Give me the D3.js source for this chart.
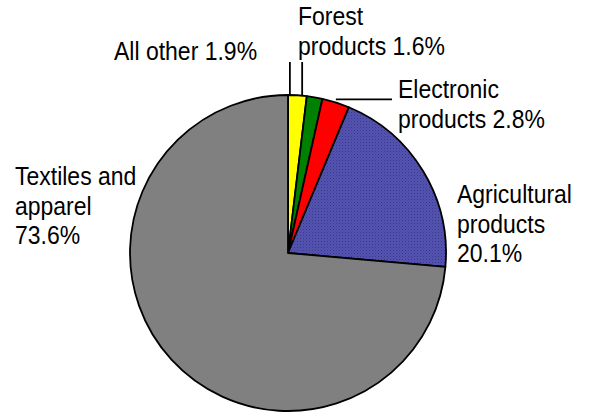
<!DOCTYPE html>
<html><head><meta charset="utf-8">
<script src="https://cdn.jsdelivr.net/npm/d3@7"></script>
<style>body{margin:0;background:#fff}svg{display:block}text{font-family:"Liberation Sans",Arial,sans-serif;font-size:23px;fill:#000}</style>
</head><body>
<script>
const categories = ["All other", "Forest products", "Electronic products", "Agricultural products", "Textiles and apparel"];
const values = [1.9, 1.6, 2.8, 20.1, 73.6];
const colors = ["#ffff00", "#008000", "#ff0000", "url(#dots)", "#808080"];
const labelLines = [["All other 1.9%"], ["Forest", "products 1.6%"], ["Electronic", "products 2.8%"], ["Agricultural", "products", "20.1%"], ["Textiles and", "apparel", "73.6%"]];

const W = 593, H = 412, cx = 288, cy = 253, R = 158;
const svg = d3.select("body").append("svg").attr("width", W).attr("height", H);
const defs = svg.append("defs");
const pat = defs.append("pattern").attr("id", "dots").attr("patternUnits", "userSpaceOnUse").attr("width", 3).attr("height", 3);
pat.append("rect").attr("width", 3).attr("height", 3).attr("fill", "#5454b0");
pat.append("rect").attr("x", 0).attr("y", 0).attr("width", 1).attr("height", 1).attr("fill", "#383890");
pat.append("rect").attr("x", 1.5).attr("y", 1.5).attr("width", 1).attr("height", 1).attr("fill", "#42429c");

const pie = d3.pie().sort(null).value(d => d)(values);
const arc = d3.arc().innerRadius(0).outerRadius(R);
const g = svg.append("g").attr("transform", `translate(${cx},${cy})`);
g.selectAll("path").data(pie).join("path")
  .attr("d", arc).attr("fill", (d, i) => colors[i])
  .attr("stroke", "#000").attr("stroke-width", 1.8).attr("stroke-linejoin", "round");

const lineH = 29.5, sy = 1.1;
const labelPos = [
  {x: 114, y: 60, leader: {frac: 0.1, type: "v", to: 62}},
  {x: 298, y: 25, leader: {frac: 0.0, off: -1.7, type: "v", to: 62}},
  {x: 398, y: 98, leader: {frac: 0.5, type: "h", to: 392}},
  {x: 457, y: 203},
  {x: 15, y: 185}
];
const pt = (ang) => [cx + R * Math.sin(ang), cy - R * Math.cos(ang)];
pie.forEach((d, i) => {
  const p = labelPos[i];
  labelLines[i].forEach((ln, k) => {
    svg.append("text").attr("transform", `translate(${p.x},${p.y + k * lineH}) scale(1,${sy})`).text(ln);
  });
  if (p.leader) {
    const ang = d.startAngle + p.leader.frac * (d.endAngle - d.startAngle) + (p.leader.off || 0) * Math.PI / 180;
    const [ax, ay] = pt(ang);
    if (p.leader.type === "v") {
      svg.append("line").attr("x1", ax).attr("x2", ax).attr("y1", ay).attr("y2", p.leader.to).attr("stroke", "#000").attr("stroke-width", 1.8);
    } else {
      svg.append("line").attr("x1", ax).attr("x2", p.leader.to).attr("y1", ay - 3).attr("y2", ay - 3).attr("stroke", "#000").attr("stroke-width", 1.8);
    }
  }
});
</script>
</body></html>
